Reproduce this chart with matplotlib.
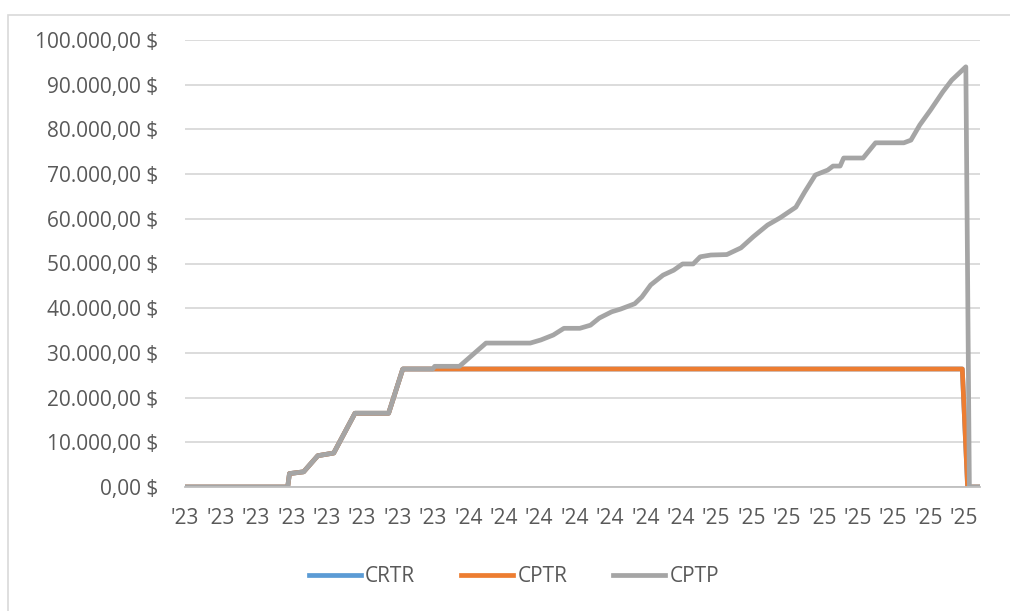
import numpy as np
import matplotlib
matplotlib.use("Agg")
import matplotlib.pyplot as plt
from matplotlib.ticker import FuncFormatter
from matplotlib.patches import Rectangle

# day index of each change point and cumulative amount
cptp_days = [0, 58, 59, 67, 75, 84, 96, 115, 123, 140, 141, 155, 170, 195, 201, 208,
             214, 223, 229, 234, 241, 246, 254, 258, 263, 270, 276, 281, 287, 291,
             297, 306, 314, 321, 329, 336, 345, 350, 356, 363, 366, 370, 372, 383,
             390, 406, 410, 415, 421, 428, 433, 441, 443, 448]
cptp_vals = [0, 0, 3000, 3400, 7000, 7600, 16500, 16500, 26400, 26400, 27000, 27000,
             32200, 32200, 32900, 34000, 35500, 35500, 36200, 37800, 39200, 39800,
             41000, 42500, 45200, 47400, 48500, 49900, 49900, 51500, 51900, 52000,
             53500, 56000, 58600, 60200, 62600, 66000, 69800, 70900, 71800, 71800,
             73600, 73600, 77000, 77000, 77600, 81000, 84300, 88400, 91000, 94000,
             0, 0]

cptr_days = [0, 58, 59, 67, 75, 84, 96, 115, 123, 140, 439, 442, 448]
cptr_vals = [0, 0, 3000, 3400, 7000, 7600, 16500, 16500, 26400, 26400, 26400, 0, 0]

crtr_days = [0, 58, 59, 67, 75, 84, 96, 115, 123, 140, 439, 442, 448]
crtr_vals = [0, 0, 3000, 3400, 7000, 7600, 16500, 16500, 26400, 26400, 26400, 0, 0]

x_labels = ["'23"] * 8 + ["'24"] * 7 + ["'25"] * 8

plt.rcParams['font.family'] = ['Open Sans', 'DejaVu Sans']

fig = plt.figure(figsize=(10.1, 6.11), dpi=100)
ax = fig.add_axes([185/1010, 124/611, 795/1010, 447/611])

ax.plot(crtr_days, crtr_vals, color='#5b9bd5', lw=3.4, label='CRTR', solid_joinstyle='round')
ax.plot(cptr_days, cptr_vals, color='#ed7d31', lw=3.4, label='CPTR', solid_joinstyle='round')
ax.plot(cptp_days, cptp_vals, color='#a5a5a5', lw=3.4, label='CPTP', solid_joinstyle='round')

ax.set_xlim(0, 449)
ax.set_ylim(0, 100000)
ax.set_yticks(np.arange(0, 100001, 10000))
ax.set_xticks(np.arange(0, 20 * len(x_labels), 20))
ax.set_xticklabels(x_labels)


def money(v, pos):
    s = f"{v:,.2f}".replace(",", "X").replace(".", ",").replace("X", ".")
    return s + " $"


ax.yaxis.set_major_formatter(FuncFormatter(money))
ax.grid(axis='y', color='#d9d9d9', lw=1.3)
ax.set_axisbelow(True)
for s in ['top', 'right', 'left']:
    ax.spines[s].set_visible(False)
ax.spines['bottom'].set_color('#bfbfbf')
ax.spines['bottom'].set_linewidth(1.3)
ax.tick_params(axis='both', length=0, labelsize=15, labelcolor='#595959')
ax.tick_params(axis='y', pad=19)
ax.tick_params(axis='x', pad=15)

fig.legend(loc='center', bbox_to_anchor=(514/1010, 1 - 577/611), ncol=3, frameon=False,
           fontsize=15, labelcolor='#595959', handlelength=2.5, handletextpad=0.2,
           columnspacing=2.2)

fig.add_artist(Rectangle((8/1010, -0.1), 1.2, 1.1 - 15/611, transform=fig.transFigure,
                         fill=False, ec='#d9d9d9', lw=1.2))

fig.savefig('out.png', dpi=100)
